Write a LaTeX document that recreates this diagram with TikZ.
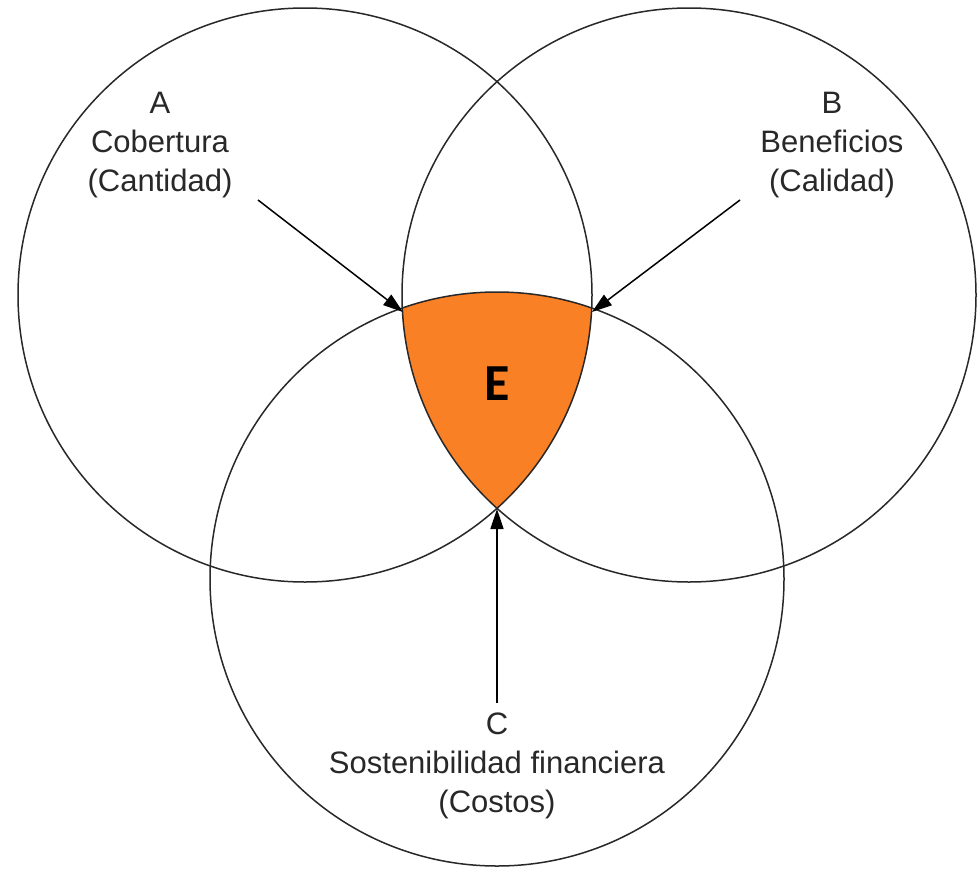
\documentclass[tikz,border=0pt]{standalone}
\usepackage{fontspec}
\setmainfont{Liberation Sans}
\newfontfamily\efont{Carlito}
\usetikzlibrary{arrows.meta}
\definecolor{eorange}{RGB}{250,128,37}
\definecolor{ink}{RGB}{40,40,40}
\begin{document}
\begin{tikzpicture}[x=1pt,y=-1pt,
  ring/.style={draw=ink,line width=1.5pt},
  lbl/.style={align=center,text=ink,font=\fontsize{31}{39}\selectfont,inner sep=0pt},
  pointer/.style={draw=black,line width=1.5pt,-{Triangle[length=20pt,width=13pt]}}]
\useasboundingbox (0,0) rectangle (977,870);
\fill[white] (0,0) rectangle (977,870);
% orange region E
\begin{scope}
  \clip (305,295) circle[radius=287];
  \clip (689,295) circle[radius=287];
  \fill[eorange] (497,579) circle[radius=287];
\end{scope}
\draw[ring] (305,295) circle[radius=287];
\draw[ring] (689,295) circle[radius=287];
\draw[ring] (497,579) circle[radius=287];
% labels
\node[lbl] (la) at (160,145) {A\\Cobertura\\(Cantidad)};
\node[lbl] (lb) at (832,145) {B\\Beneficios\\(Calidad)};
\node[lbl] (lc) at (497,766) {C\\Sostenibilidad financiera\\(Costos)};
\node[font=\efont\fontsize{52}{52}\selectfont\bfseries,inner sep=0pt] (e) at (497,384) {E};
% points
\coordinate (ta) at (258,200);
\coordinate (tb) at (740,200);
\coordinate (tc) at (497,703);
\coordinate (bc) at (403,312);
\coordinate (ac) at (592,312);
\coordinate (ab) at (497,509);
\draw[pointer] (ta) -- (bc);
\draw[pointer] (tb) -- (ac);
\draw[pointer] (tc) -- (ab);
\end{tikzpicture}
\end{document}
